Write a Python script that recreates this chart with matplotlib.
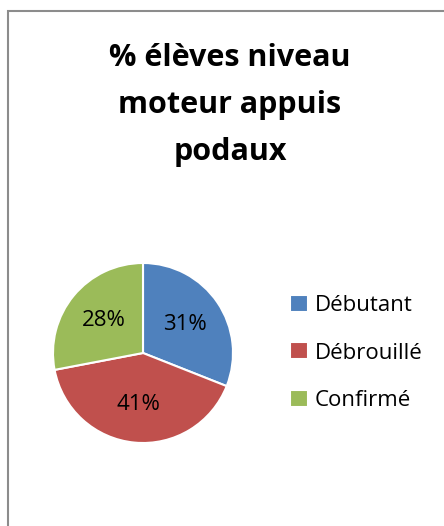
import matplotlib
matplotlib.use("Agg")
from matplotlib import pyplot as plt
from matplotlib.patches import Rectangle

categories = ["Débutant", "Débrouillé", "Confirmé"]
values = [31, 41, 28]
colors = ["#4F81BD", "#C0504D", "#9BBB59"]
title = "% élèves niveau\nmoteur appuis\npodaux"

plt.rcParams['font.family'] = ['Open Sans', 'DejaVu Sans']

W, H = 444, 526
fig = plt.figure(figsize=(W / 100, H / 100), dpi=100)

# chart border (cut by the image edges on the right and bottom)
fig.patches.append(Rectangle((8 / W, -0.05), 1.1, (H - 11) / H + 0.05,
                             transform=fig.transFigure, fill=False,
                             edgecolor="#8c8c8c", linewidth=1.5))

fig.text(230 / W, 1 - 105 / H, title, ha="center", va="center",
         fontsize=22, fontweight="bold", linespacing=1.75)

ax = fig.add_axes([53 / W, (H - 443) / H, 180 / W, 180 / H])
wedges, texts, autotexts = ax.pie(values, colors=colors, startangle=90,
                                  counterclock=False, autopct="%d%%",
                                  pctdistance=0.57,
                                  wedgeprops=dict(edgecolor="white", linewidth=1.5),
                                  textprops=dict(fontsize=16, color="black"))
ax.set_xlim(-1, 1)
ax.set_ylim(-1, 1)
ax.set_aspect("equal")

fig.legend(wedges, categories, loc="center left",
           bbox_to_anchor=(270 / W, 1 - 353 / H), frameon=False,
           fontsize=16, handlelength=0.8, handleheight=0.8,
           handletextpad=0.3, labelspacing=1.2)

fig.savefig("out.png", dpi=100)
